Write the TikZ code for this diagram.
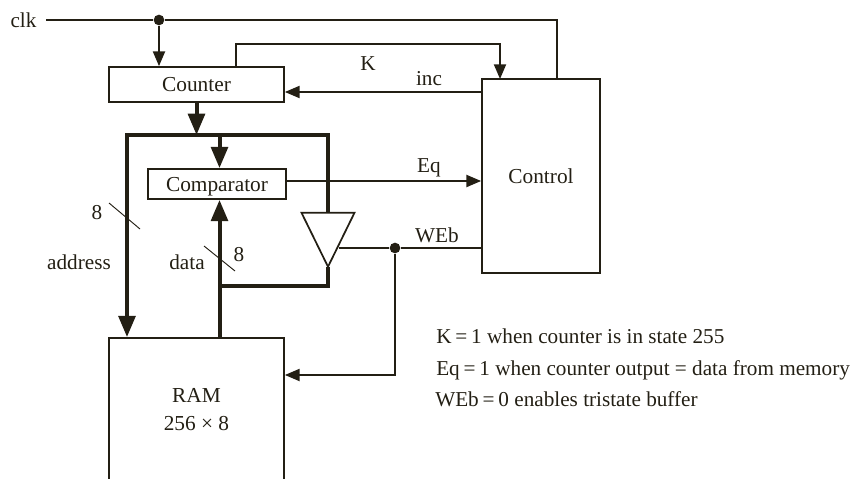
\documentclass[tikz,border=0pt]{standalone}
\usepackage{fontspec}
\setmainfont{Liberation Serif}
\usepackage{tikz}
\usetikzlibrary{arrows.meta,positioning,calc,shapes.geometric}
\definecolor{inkdark}{RGB}{35,31,20}
\tikzset{
    block/.style={draw=inkdark, line width=1.3pt, align=center, text=inkdark, inner sep=0pt, font=\fontsize{16}{21}\selectfont},
    oneline/.style={text height=10.5pt, text depth=0pt},
    wirelabel/.style={text=inkdark, inner sep=0pt, anchor=base, font=\fontsize{15.9}{19}\selectfont},
    wire/.style={draw=inkdark, line width=1.4pt},
    wirearrow/.style={wire, -{Triangle[length=11pt, width=9pt]}},
    bus/.style={draw=inkdark, line width=3pt},
    busarrow/.style={bus, -{Triangle[length=16pt, width=12.5pt]}},
    slash/.style={draw=inkdark, line width=0.7pt},
    junction/.style={circle, fill=inkdark, inner sep=0pt, minimum size=8pt}
}

\begin{document}
\begin{tikzpicture}[x=0.75pt, y=-0.75pt]
    \clip (0,0) rectangle (852,478);
    \node[block, oneline, minimum width=131.25pt, minimum height=26.25pt] (counter) at (196.5,84.5) {Counter};
    \node[block, oneline, minimum width=103.5pt, minimum height=22.5pt] (comp) at (217,184) {Comparator};
    \node[block, oneline, minimum width=88.5pt, minimum height=145.5pt] (control) at (541,176) {Control};
    \node[block, minimum width=131.25pt, minimum height=108pt] (ram) at (196.5,410) {RAM\\256 × 8};
    \node[isosceles triangle, shape border rotate=270, isosceles triangle stretches, draw=inkdark, line width=1.3pt, minimum width=39.75pt, minimum height=40.5pt, inner sep=0pt, anchor=apex] (tri) at (328,269) {};

    \node[wirelabel] (clk) at (23.5,27.5) {clk};
    \node[junction] (clkdot) at (159,20) {};
    \node[junction] (webdot) at (395,248) {};
    \coordinate (clkend) at (46,20);
    \coordinate (busleft) at (127,135);
    \coordinate (busright) at (328,135);
    \coordinate (datatap) at (219.5,286);
    \coordinate (tripin) at (339,248);

    % clock and control wires
    \draw[wire] (clkend) -- (clkdot);
    \draw[wire] (clkdot) -- (557,20) -- (557,79);
    \draw[wirearrow] (clkdot) -- (clkdot |- counter.north);
    \draw[wirearrow] (236,67) -- (236,44) -- (500,44) -- (500,79);
    \draw[wirearrow] (482,92) -- (counter.east |- 0,92);
    \draw[wirearrow] (comp.east |- 0,181) -- (control.west |- 0,181);
    \draw[wire] (control.west |- webdot) -- (webdot);
    \draw[wire] (webdot) -- (tripin);
    \draw[wirearrow] (webdot) -- (395,375) -- (ram.east |- 0,375);

    % buses
    \draw[busarrow] (counter.south) -- (counter.south |- busleft);
    \draw[bus, line cap=rect] (busleft) -- (busright);
    \draw[bus] (busright) -- (tri.north);
    \draw[busarrow] (busleft) -- (busleft |- ram.north);
    \draw[busarrow] (datatap |- busleft) -- (datatap |- comp.north);
    \draw[busarrow] (datatap |- ram.north) -- (datatap |- comp.south);
    \draw[bus, line cap=rect] (tri.apex) -- (tri.apex |- datatap) -- (datatap);

    \node[wirelabel] (klabel) at (368,70) {K};
    \node[wirelabel] (inclabel) at (429,85.7) {inc};
    \node[wirelabel] (eqlabel) at (429,172.7) {Eq};
    \node[wirelabel] (weblabel) at (437,242.3) {WEb};
    \node[wirelabel] (addrlabel) at (79,269) {address};
    \node[wirelabel] (datalabel) at (187,269) {data};
    \node[wirelabel] (addrwidth) at (97,219) {8};
    \node[wirelabel] (datawidth) at (239,261) {8};
    \draw[slash] (109,203) -- (140,229);
    \draw[slash] (204,246) -- (235,271);

    \node[wirelabel, anchor=base west] (notek) at (436,343) {K$\,$=$\,$1 when counter is in state 255};
    \node[wirelabel, anchor=base west] (noteeq) at (436,375) {Eq$\,$=$\,$1 when counter output = data from memory};
    \node[wirelabel, anchor=base west] (noteweb) at (435,406.5) {WEb$\,$=$\,$0 enables tristate buffer};
\end{tikzpicture}
\end{document}
